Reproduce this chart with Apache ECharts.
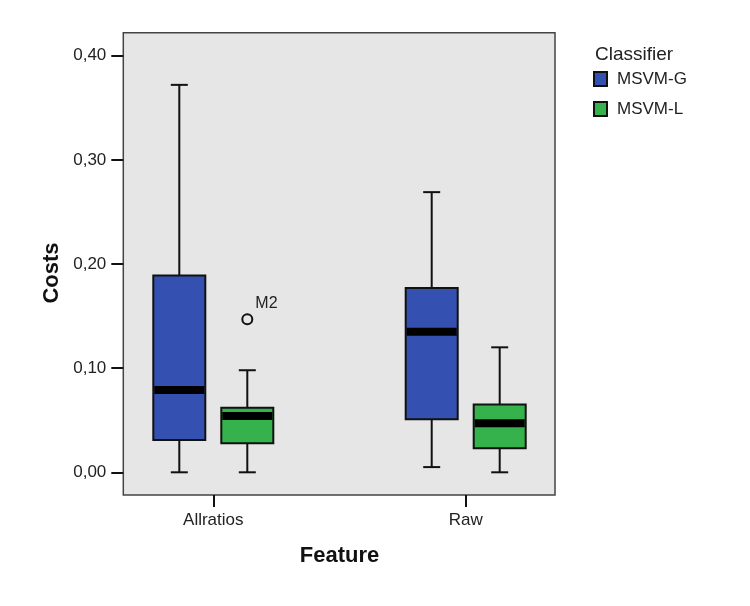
<!DOCTYPE html>
<html>
<head>
<meta charset="utf-8">
<script src="https://cdn.jsdelivr.net/npm/echarts@6.0.0/dist/echarts.min.js"></script>
<style>
  html, body { margin: 0; padding: 0; background: #fff; }
  #main { width: 750px; height: 606px; }
</style>
</head>
<body>
<div id="main"></div>
<script>
// box stats per feature: [min, Q1, median, Q3, max]
const categories = ['Allratios', 'Raw'];
const msvmG = [
  [0.000, 0.031, 0.079, 0.189, 0.372],
  [0.005, 0.051, 0.135, 0.177, 0.269]
];
const msvmL = [
  [0.000, 0.028, 0.054, 0.062, 0.098],
  [0.000, 0.023, 0.047, 0.065, 0.120]
];
// outliers: [feature, value, label]
const outliersL = [['Allratios', 0.147, 'M2']];

const blue = '#3450b1';
const green = '#35b24b';
const boxW = 52;
const capW = 17;
const dodge = 34; // px between category tick and box centre

function boxRenderer(offset, color) {
  return function (params, api) {
    const x = api.value(0);
    const pMin = api.coord([x, api.value(1)]);
    const pQ1 = api.coord([x, api.value(2)]);
    const pMed = api.coord([x, api.value(3)]);
    const pQ3 = api.coord([x, api.value(4)]);
    const pMax = api.coord([x, api.value(5)]);
    const cx = pMin[0] + offset;
    const line = { stroke: '#111', lineWidth: 2 };
    return {
      type: 'group',
      children: [
        { type: 'line', shape: { x1: cx, y1: pMax[1], x2: cx, y2: pQ3[1] }, style: line },
        { type: 'line', shape: { x1: cx, y1: pQ1[1], x2: cx, y2: pMin[1] }, style: line },
        { type: 'line', shape: { x1: cx - capW / 2, y1: pMax[1], x2: cx + capW / 2, y2: pMax[1] }, style: line },
        { type: 'line', shape: { x1: cx - capW / 2, y1: pMin[1], x2: cx + capW / 2, y2: pMin[1] }, style: line },
        {
          type: 'rect',
          shape: { x: cx - boxW / 2, y: pQ3[1], width: boxW, height: pQ1[1] - pQ3[1] },
          style: { fill: color, stroke: '#111', lineWidth: 2 }
        },
        {
          type: 'rect',
          shape: { x: cx - boxW / 2 + 1, y: pMed[1] - 4, width: boxW - 2, height: 8 },
          style: { fill: '#000' }
        }
      ]
    };
  };
}

function toRows(stats) {
  return stats.map(function (s, i) { return [i].concat(s); });
}

const chart = echarts.init(document.getElementById('main'), null, { renderer: 'canvas' });

const noBounds = { containLabel: false, outerBoundsMode: 'none' };

const option = {
  animation: false,
  backgroundColor: '#fff',
  textStyle: { fontFamily: 'Liberation Sans, Arial, sans-serif', color: '#222' },
  title: {
    text: 'Classifier',
    left: 595,
    top: 45,
    padding: 0,
    textStyle: { fontSize: 19, fontWeight: 'normal', color: '#222' }
  },
  legend: {
    orient: 'vertical',
    left: 593,
    top: 70.5,
    padding: 0,
    itemWidth: 13,
    itemHeight: 14,
    itemGap: 13,
    selectedMode: false,
    icon: 'rect',
    textStyle: { fontSize: 17, color: '#222', padding: [0, 0, 0, 5] },
    data: [
      { name: 'MSVM-G', itemStyle: { color: blue, borderColor: '#111', borderWidth: 2 } },
      { name: 'MSVM-L', itemStyle: { color: green, borderColor: '#111', borderWidth: 2 } }
    ]
  },
  grid: [
    // data grid: x at the categories, y from 0 to 0.4
    Object.assign({ left: 213.3, right: 284.3, top: 55.7, bottom: 133.7, show: false }, noBounds),
    // plot frame
    Object.assign({
      left: 123.3, right: 195, top: 32.7, bottom: 111,
      show: true, backgroundColor: '#e6e6e6', borderColor: '#444', borderWidth: 1.5
    }, noBounds),
    // category axis along the frame bottom
    Object.assign({ left: 213.3, right: 284.3, top: 32.7, bottom: 111, show: false }, noBounds)
  ],
  xAxis: [
    { gridIndex: 0, type: 'category', data: categories, boundaryGap: false, show: false },
    { gridIndex: 1, type: 'value', show: false, min: 0, max: 1 },
    {
      gridIndex: 2,
      type: 'category',
      data: categories,
      boundaryGap: false,
      name: 'Feature',
      nameLocation: 'middle',
      nameGap: 50,
      nameTextStyle: { fontSize: 22, fontWeight: 'bold', color: '#111' },
      axisLine: { show: false },
      axisTick: { length: 12, lineStyle: { color: '#111', width: 2 } },
      axisLabel: { fontSize: 17, color: '#222', margin: 17 },
      splitLine: { show: false }
    }
  ],
  yAxis: [
    {
      gridIndex: 0,
      type: 'value',
      min: 0,
      max: 0.4,
      interval: 0.1,
      offset: 90,
      name: 'Costs',
      nameLocation: 'middle',
      nameGap: 60,
      nameTextStyle: { fontSize: 22, fontWeight: 'bold', color: '#111', padding: [0, 18, 0, 0] },
      axisLine: { show: false },
      axisTick: { show: true, length: 12, lineStyle: { color: '#111', width: 2 } },
      axisLabel: {
        fontSize: 17,
        color: '#222',
        margin: 17,
        formatter: function (v) { return v.toFixed(2).replace('.', ','); }
      },
      splitLine: { show: false }
    },
    { gridIndex: 1, type: 'value', show: false, min: 0, max: 1 },
    { gridIndex: 2, type: 'value', show: false, min: 0, max: 1 }
  ],
  series: [
    {
      name: 'MSVM-G',
      type: 'custom',
      xAxisIndex: 0,
      yAxisIndex: 0,
      itemStyle: { color: blue },
      renderItem: boxRenderer(-dodge, blue),
      encode: { x: 0, y: [1, 2, 3, 4, 5] },
      data: toRows(msvmG),
      z: 3
    },
    {
      name: 'MSVM-L',
      type: 'custom',
      xAxisIndex: 0,
      yAxisIndex: 0,
      itemStyle: { color: green },
      renderItem: boxRenderer(dodge, green),
      encode: { x: 0, y: [1, 2, 3, 4, 5] },
      data: toRows(msvmL),
      z: 3
    },
    {
      name: 'outliers',
      type: 'custom',
      xAxisIndex: 0,
      yAxisIndex: 0,
      renderItem: function (params, api) {
        const p = api.coord([api.value(0), api.value(1)]);
        const cx = p[0] + dodge;
        return {
          type: 'group',
          children: [
            { type: 'circle', shape: { cx: cx, cy: p[1], r: 5 }, style: { fill: 'none', stroke: '#111', lineWidth: 2 } },
            {
              type: 'text',
              x: cx + 8, y: p[1] - 8,
              style: {
                text: api.value(2), fontSize: 16, fill: '#222',
                fontFamily: 'Liberation Sans, Arial, sans-serif',
                verticalAlign: 'bottom', align: 'left'
              }
            }
          ]
        };
      },
      encode: { x: 0, y: 1 },
      dimensions: [{ name: 'x', type: 'ordinal' }, 'y', { name: 'label', type: 'ordinal' }],
      data: outliersL.map(function (o) { return [categories.indexOf(o[0]), o[1], o[2]]; }),
      z: 3
    }
  ]
};

chart.setOption(option);
</script>
</body>
</html>
